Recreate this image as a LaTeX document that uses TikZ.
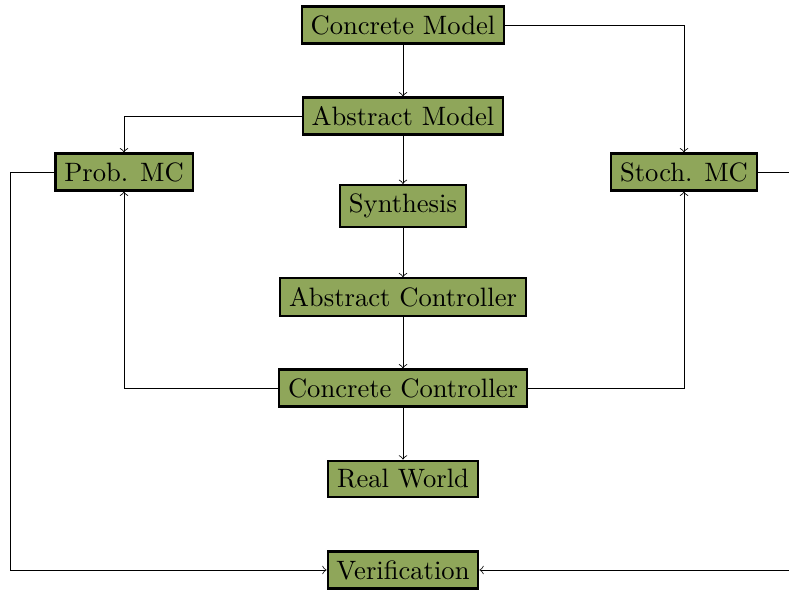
\documentclass[tikz,border=0pt]{standalone}
\usetikzlibrary{arrows.meta}
\definecolor{boxgreen}{RGB}{143,166,90}
\begin{document}
\begin{tikzpicture}[x=0.376pt,y=-0.376pt,
  blk/.style={draw=black,thick,fill=boxgreen,inner sep=3.33pt},
  conn/.style={->,>=to,line width=0.3pt}]
\useasboundingbox (0,0) rectangle (789,589);
\node[blk] (cm) at (403,25) {Concrete Model};
\node[blk] (am) at (403,116) {Abstract Model};
\node[blk] (pmc) at (124,172) {Prob. MC};
\node[blk] (smc) at (684,172) {Stoch. MC};
\node[blk] (syn) at (403,206) {Synthesis};
\node[blk] (ac) at (403,297) {Abstract Controller};
\node[blk] (cc) at (403,388) {Concrete Controller};
\node[blk] (rw) at (403,479) {Real World};
\node[blk] (ver) at (403,570) {Verification};
\coordinate (lx) at (10,0);
\coordinate (rx) at (800,0);
\draw[conn] (cm) -- (am);
\draw[conn] (cm.east) -| (smc.north);
\draw[conn] (am.west) -| (pmc.north);
\draw[conn] (am) -- (syn);
\draw[conn] (syn) -- (ac);
\draw[conn] (ac) -- (cc);
\draw[conn] (cc) -- (rw);
\draw[conn] (cc.west) -| (pmc.south);
\draw[conn] (cc.east) -| (smc.south);
\draw[conn] (pmc.west) -- (pmc.west -| lx) |- (ver.west);
\draw[conn] (smc.east) -- (smc.east -| rx) |- (ver.east);
\end{tikzpicture}
\end{document}
